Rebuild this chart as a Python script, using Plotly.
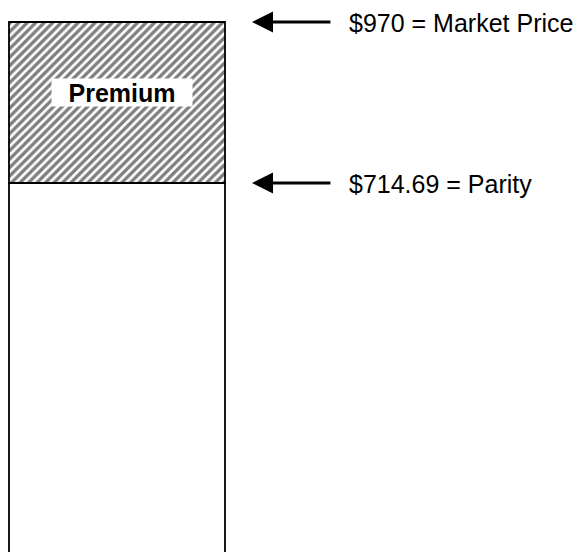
import plotly.graph_objects as go

# Data
category = ["Bond"]
parity_value = [714.69]
market_price = [970]
premium_value = [market_price[0] - parity_value[0]]
labels = ["$970 = Market Price", "$714.69 = Parity"]
premium_label = "Premium"

FONT = "Arial, Liberation Sans, sans-serif"

fig = go.Figure()
fig.add_trace(go.Bar(
    x=[0], y=parity_value, width=[1],
    marker=dict(color="white", line=dict(color="black", width=1.8)),
    showlegend=False, hoverinfo="skip",
))
fig.add_trace(go.Bar(
    x=[0], y=premium_value, base=parity_value, width=[1],
    marker=dict(color="white", line=dict(color="black", width=1.8),
                pattern=dict(shape="/", fgcolor="black", bgcolor="white",
                             size=6, solidity=0.55)),
    showlegend=False, hoverinfo="skip",
))

levels = [market_price[0], parity_value[0]]
for lvl, txt in zip(levels, labels):
    fig.add_annotation(
        x=0.625, y=lvl, xref="x", yref="y",
        ax=0.995, ay=lvl, axref="x", ayref="y",
        text="", showarrow=True, arrowhead=2, arrowsize=1.4,
        arrowwidth=3, arrowcolor="black",
    )
    fig.add_annotation(
        x=1.064, y=lvl, yshift=-1, xref="x", yref="y", text=txt, showarrow=False,
        xanchor="left", yanchor="middle",
        font=dict(family=FONT, size=25, color="black"),
    )

fig.add_annotation(
    x=0.023, y=(market_price[0] + parity_value[0]) / 2, yshift=10,
    xref="x", yref="y", text="<b>" + premium_label + "</b>", showarrow=False,
    bgcolor="white", width=136, height=23, borderpad=2,
    font=dict(family=FONT, size=25, color="black"),
)

fig.update_layout(
    width=583, height=552,
    margin=dict(l=0, r=0, t=0, b=0),
    paper_bgcolor="white", plot_bgcolor="white",
    barmode="overlay", showlegend=False,
    xaxis=dict(range=[-0.5046, 2.1944], visible=False, fixedrange=True),
    yaxis=dict(range=[116.8, 992.2], visible=False, fixedrange=True),
)

fig.write_html("out.html")
